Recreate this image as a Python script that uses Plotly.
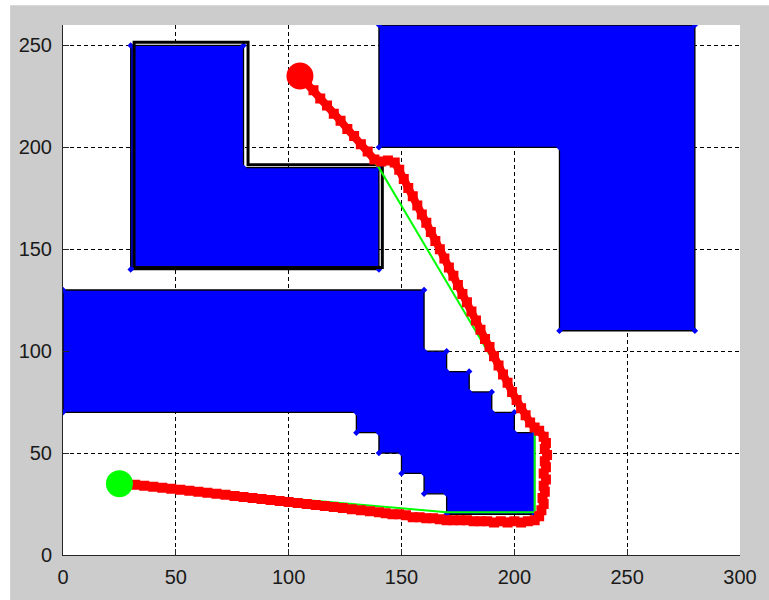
import plotly.graph_objects as go

# ---------------- data ----------------
# obstacles (polygon vertices)
obs1_x = [30, 30, 80, 80, 140, 140]
obs1_y = [140, 250, 250, 190, 190, 140]

obs2_x = [140, 280, 280, 220, 220, 140]
obs2_y = [260, 260, 110, 110, 200, 200]

obs3_x = [0, 160, 160, 170, 170, 180, 180, 190, 190, 200, 200, 209, 209,
          170, 170, 160, 160, 150, 150, 140, 140, 130, 130, 0]
obs3_y = [130, 130, 100, 100, 90, 90, 80, 80, 70, 70, 60, 60, 20,
          20, 30, 30, 40, 40, 50, 50, 60, 60, 70, 70]

# black outline around the L-shaped obstacle
outline_x = [31.5, 31.5, 82, 82, 141.5, 141.5, 31.5]
outline_y = [141, 251.5, 251.5, 191.5, 191.5, 141, 141]

# planned (green) path
green_x = [105, 140, 209, 209, 170, 25]
green_y = [235, 190, 61, 21, 21, 35]

# executed (red) path
red_x = [105, 108, 111, 114, 117, 120, 123, 126, 129, 132, 135, 138, 141, 144, 147,
         149, 151, 153, 155, 157, 159, 161, 163, 165, 167, 169, 171, 173, 175, 177,
         179, 181, 183, 185, 187, 189, 191, 193, 195, 197, 199, 201, 203, 205, 207,
         209, 211, 213,
         214, 213.5, 214.5, 213.5, 214, 213, 214, 213, 213.5, 212.5, 213, 212, 211, 209,
         206, 203, 200, 197, 194, 191, 188, 185, 182, 179, 176, 173, 170, 167, 164,
         161, 158, 155, 152, 149, 146, 143, 140,
         136, 132, 128, 124, 120, 116, 112, 108, 104, 100, 96, 92, 88, 84, 80, 76,
         72, 68, 64, 60, 56, 52, 48, 44, 40, 36, 32, 28]
red_y = [235, 231.5, 228, 224, 220.5, 216.5, 213, 209, 205.5, 201.5, 198, 194, 193, 193.5, 192.5,
         189, 184.5, 180, 176, 171.5, 167, 163, 158.5, 154, 150, 145.5, 141, 137, 132.5, 128,
         124, 119.5, 115, 110.5, 106, 102, 97.5, 93, 88.5, 84.5, 80, 76, 72, 68.5, 65,
         62.5, 61, 58,
         55, 52, 49, 46, 43, 40, 37, 34, 31, 28, 25, 22, 19, 17,
         16.5, 16, 16.5, 16, 16.5, 16, 16.5, 16.5, 16.5, 17, 17, 17, 17, 17.5, 18,
         18, 18.5, 18.5, 19.5, 20, 20, 20.5, 21,
         21.5, 22, 22.5, 23, 23.5, 24, 24.5, 25, 25.5, 26, 26.5, 27, 27.5, 28, 28.5, 29,
         29.5, 30, 30.5, 31, 31.5, 32, 32.5, 33, 33.5, 34, 34.5, 35]

start_pt = (105, 235)
goal_pt = (25, 35)

x_ticks = [0, 50, 100, 150, 200, 250, 300]
y_ticks = [0, 50, 100, 150, 200, 250]

# ---------------- figure ----------------
BLUE = "#0000ff"
RED = "#ff0000"
GREEN = "#00ff00"

fig = go.Figure()

for px, py in [(obs1_x, obs1_y), (obs2_x, obs2_y), (obs3_x, obs3_y)]:
    fig.add_trace(go.Scatter(
        x=px + [px[0]], y=py + [py[0]], mode="lines", fill="toself",
        fillcolor=BLUE, line=dict(color="black", width=1.3),
        hoverinfo="skip", showlegend=False))
    fig.add_trace(go.Scatter(
        x=px, y=py, mode="markers",
        marker=dict(symbol="diamond", size=5, color=BLUE),
        hoverinfo="skip", showlegend=False))

fig.add_trace(go.Scatter(
    x=outline_x, y=outline_y, mode="lines",
    line=dict(color="black", width=3), hoverinfo="skip", showlegend=False))

fig.add_trace(go.Scatter(
    x=green_x, y=green_y, mode="lines",
    line=dict(color=GREEN, width=2), hoverinfo="skip", showlegend=False))

fig.add_trace(go.Scatter(
    x=red_x, y=red_y, mode="lines+markers",
    line=dict(color=RED, width=8),
    marker=dict(symbol="square-open", size=7, color=RED, line=dict(color=RED, width=3)),
    hoverinfo="skip", showlegend=False))

fig.add_trace(go.Scatter(
    x=[start_pt[0]], y=[start_pt[1]], mode="markers",
    marker=dict(symbol="circle", size=27, color=RED, line=dict(width=0)),
    hoverinfo="skip", showlegend=False))
fig.add_trace(go.Scatter(
    x=[goal_pt[0]], y=[goal_pt[1]], mode="markers",
    marker=dict(symbol="circle", size=27, color=GREEN, line=dict(width=0)),
    hoverinfo="skip", showlegend=False))

axis_common = dict(
    showgrid=True, gridcolor="black", gridwidth=1, griddash="4px,3px",
    zeroline=False, showline=True, linecolor="#262626", linewidth=1,
    mirror=False, ticks="inside", ticklen=6, tickcolor="#262626",
    tickfont=dict(family="Liberation Sans, Arial, sans-serif", size=20, color="#1a1a1a"),
)

fig.update_xaxes(range=[0, 300], tickvals=x_ticks, ticktext=[str(v) for v in x_ticks],
                 ticklabelstandoff=4, **axis_common)
fig.update_yaxes(range=[0, 260], tickvals=y_ticks, ticktext=[str(v) for v in y_ticks],
                 ticklabelstandoff=6, **axis_common)

# white strips at left/top edges of the window (outside the gray figure area)
fig.add_shape(type="rect", xref="paper", yref="paper", x0=-0.2, x1=-0.0781, y0=-0.2, y1=1.2,
              fillcolor="white", line=dict(width=0), layer="above")
fig.add_shape(type="rect", xref="paper", yref="paper", x0=-0.2, x1=1.2, y0=1.0374, y1=1.2,
              fillcolor="white", line=dict(width=0), layer="above")

fig.update_layout(
    width=769, height=600,
    margin=dict(l=63, r=27, t=25, b=40),
    paper_bgcolor="#cccccc", plot_bgcolor="white",
    showlegend=False,
)

fig.write_html("out.html", config={"displayModeBar": False},
               post_script="document.body.style.margin='0';document.body.style.overflow='hidden';")
